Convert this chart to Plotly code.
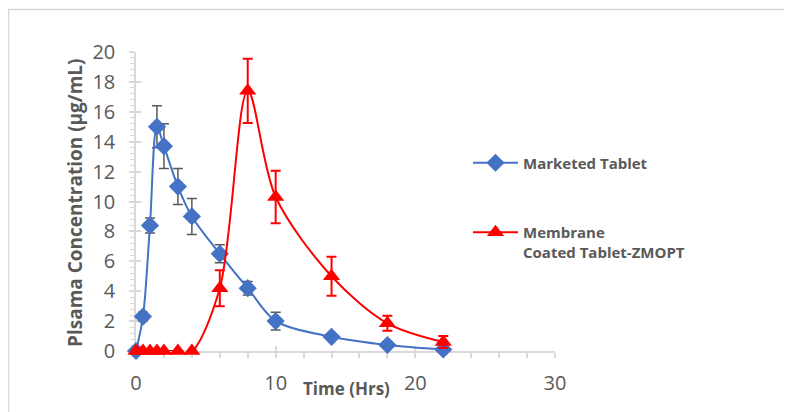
import plotly.graph_objects as go

time_hrs = [0, 0.5, 1, 1.5, 2, 3, 4, 6, 8, 10, 14, 18, 22]
marketed = [0, 2.3, 8.4, 15.0, 13.7, 11.0, 9.0, 6.5, 4.2, 2.0, 0.95, 0.4, 0.1]
marketed_err = [0, 0.3, 0.5, 1.4, 1.5, 1.2, 1.2, 0.6, 0.45, 0.6, 0.1, 0.1, 0.05]
membrane = [0, 0, 0, 0, 0, 0, 0, 4.2, 17.4, 10.3, 5.0, 1.85, 0.6]
membrane_err = [0, 0, 0, 0, 0, 0, 0, 1.2, 2.15, 1.75, 1.3, 0.5, 0.4]

x_ticks = [0, 10, 20, 30]
y_ticks = [0, 2, 4, 6, 8, 10, 12, 14, 16, 18, 20]

BLUE = "#4472C4"
RED = "#FF0000"
GRAY = "#595959"
AXIS = "#D9D9D9"
FONT = "Open Sans"

# page has an 8px body margin; work in page coordinates and convert
OFF = 8
W, H = 784, 404
L, T = 136 - OFF, 52 - OFF
R = W - (555 - OFF)
B = H - (351 - OFF)
pw, ph = W - L - R, H - T - B

def px(xp):
    return (xp - OFF - L) / pw

def py(yp):
    return (H - B - (yp - OFF)) / ph

fig = go.Figure()
# overlay axes first (only to draw the inner half of the crossing ticks)
fig.add_trace(go.Scatter(x=[None], y=[None], xaxis="x2", yaxis="y2",
                         showlegend=False, hoverinfo="skip"))
fig.add_trace(go.Scatter(
    x=time_hrs, y=marketed, name="Marketed Tablet", mode="lines+markers",
    line=dict(color=BLUE, width=2, shape="spline", smoothing=0.9),
    marker=dict(symbol="diamond", size=14, color=BLUE),
    error_y=dict(type="data", array=marketed_err, color=GRAY, thickness=1.5, width=5),
    cliponaxis=False, legend="legend",
))
fig.add_trace(go.Scatter(
    x=time_hrs, y=membrane, name="Membrane<br>Coated Tablet-ZMOPT", mode="lines+markers",
    line=dict(color=RED, width=2, shape="spline", smoothing=0.9),
    marker=dict(symbol="triangle-up", size=15, color=RED),
    error_y=dict(type="data", array=membrane_err, color=RED, thickness=2, width=5),
    cliponaxis=False, legend="legend2",
))

tickfont = dict(family=FONT, size=20, color=GRAY)
legfont = dict(family=FONT, size=15, color=GRAY, weight="bold")
fig.update_layout(
    width=W, height=H,
    margin=dict(l=L, r=R, t=T, b=B),
    paper_bgcolor="white", plot_bgcolor="white",
    xaxis=dict(range=[0, 30], tickvals=x_ticks, ticks="outside", ticklen=5, tickwidth=1.5,
               tickcolor=AXIS, showline=True, linecolor=AXIS, linewidth=1.5, showgrid=False,
               zeroline=False, tickfont=tickfont, ticklabelstandoff=8, layer="below traces",
               minor=dict(dtick=2, ticks="outside", ticklen=5, tickcolor=AXIS, tickwidth=1.5)),
    yaxis=dict(range=[0, 20], tickvals=y_ticks, ticks="outside", ticklen=5, tickwidth=1.5,
               tickcolor=AXIS, showline=True, linecolor=AXIS, linewidth=1.5, showgrid=False,
               zeroline=False, tickfont=tickfont, ticklabelstandoff=10, layer="below traces",
               minor=dict(dtick=0.4, ticks="outside", ticklen=4, tickcolor=AXIS, tickwidth=1)),
    xaxis2=dict(overlaying="x", range=[0, 30], tickvals=x_ticks, ticks="inside", ticklen=5,
                tickwidth=1.5, tickcolor=AXIS, showticklabels=False, showline=False,
                showgrid=False, zeroline=False, side="bottom", layer="below traces"),
    yaxis2=dict(overlaying="y", range=[0, 20], tickvals=y_ticks, ticks="inside", ticklen=5,
                tickwidth=1.5, tickcolor=AXIS, showticklabels=False, showline=False,
                showgrid=False, zeroline=False, side="left", layer="below traces"),
    legend=dict(x=px(468), y=py(163), xanchor="left", yanchor="middle",
                bgcolor="rgba(0,0,0,0)", font=legfont, itemwidth=45, valign="middle"),
    legend2=dict(x=px(468), y=py(242), xanchor="left", yanchor="middle",
                 bgcolor="rgba(0,0,0,0)", font=legfont, itemwidth=45, valign="top"),
    showlegend=True,
    annotations=[
        dict(text="Time (Hrs)", xref="paper", yref="paper", x=px(346), y=py(388),
             xanchor="center", yanchor="middle", showarrow=False,
             font=dict(family=FONT, size=17, color=GRAY, weight="bold")),
        dict(text="Plsama Concentration (µg/mL)", xref="paper", yref="paper",
             x=px(75), y=py(203), xanchor="center", yanchor="middle", textangle=-90,
             showarrow=False, font=dict(family=FONT, size=19, color=GRAY, weight="bold")),
    ],
    shapes=[
        dict(type="line", xref="paper", yref="paper", x0=px(8), x1=px(800), y0=py(9.5), y1=py(9.5),
             line=dict(color=AXIS, width=1.5)),
        dict(type="line", xref="paper", yref="paper", x0=px(8.5), x1=px(8.5), y0=py(9.5), y1=py(420),
             line=dict(color=AXIS, width=1.5)),
    ],
)

fig.write_html("out.html")
